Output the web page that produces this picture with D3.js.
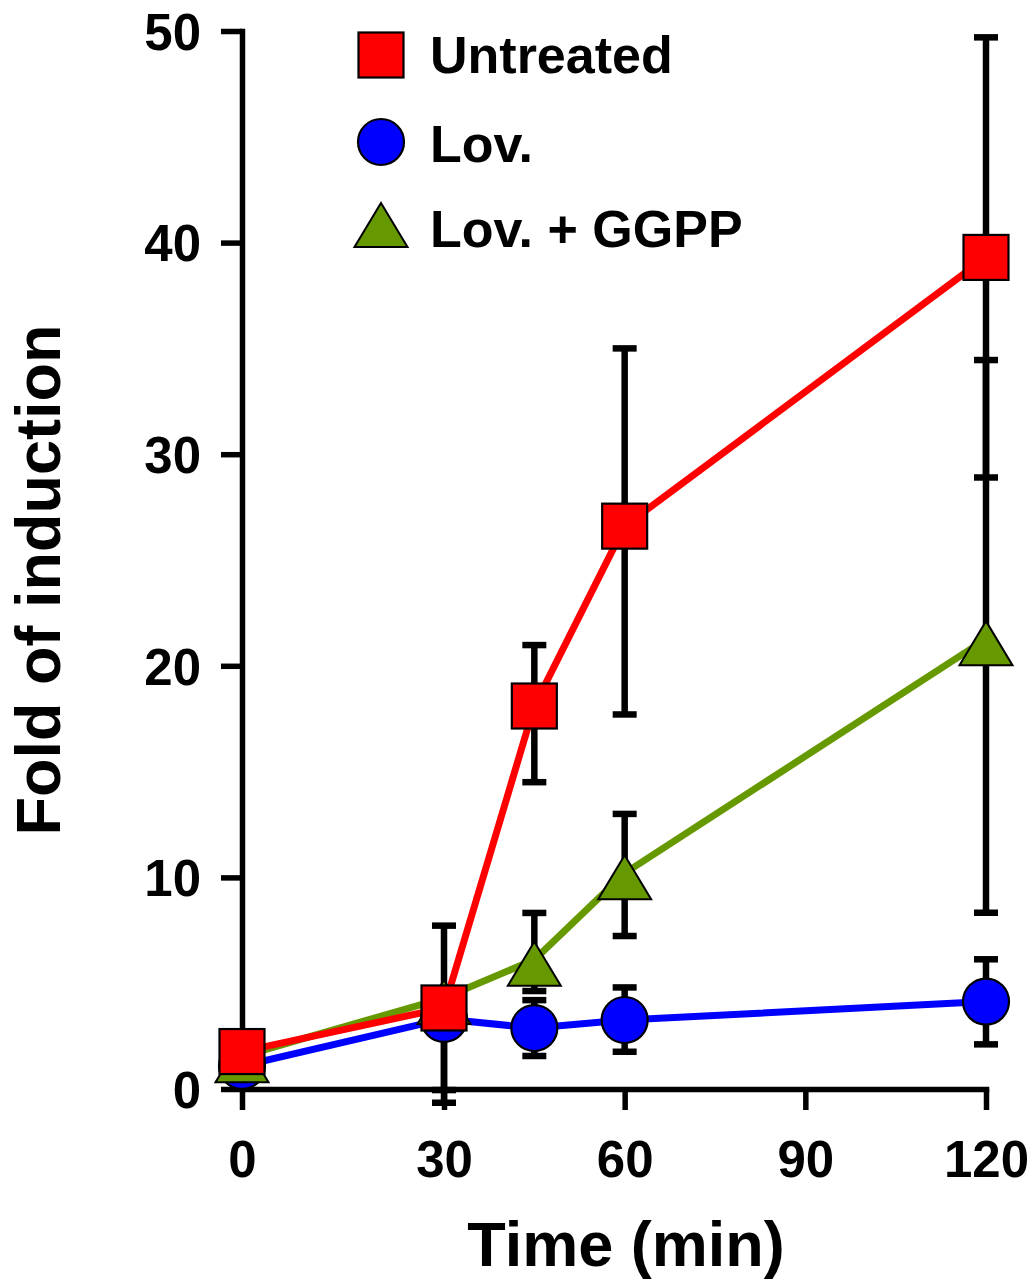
<!DOCTYPE html>
<html>
<head>
<meta charset="utf-8">
<script src="https://cdn.jsdelivr.net/npm/d3@7"></script>
<style>
  html, body { margin: 0; padding: 0; background: #fff; }
  svg { display: block; }
  text { font-family: "Liberation Sans", Arial, sans-serif; font-weight: bold; fill: #000; }
</style>
</head>
<body>
<svg id="chart" width="1033" height="1283"></svg>
<script>
// ---- data ----
const times = [0, 30, 45, 60, 120];
const xTicks = [0, 30, 60, 90, 120];
const yTicks = [0, 10, 20, 30, 40, 50];

const untreated      = [1.77, 3.83, 18.1, 26.6, 39.3];
const untreatedUpper = [null, 7.72, 20.98, 35.0, 49.7];
const untreatedLower = [null, -0.05, 14.5, 17.7, 28.9];

const lov      = [1.09, 3.31, 2.88, 3.26, 4.13];
const lovUpper = [null, 4.5, 4.2, 4.8, 6.13];
const lovLower = [null, -0.65, 1.56, 1.76, 2.11];

const ggpp      = [1.55, 4.3, 6.11, 10.2, 21.26];
const ggppUpper = [null, 4.6, 8.32, 13.0, 34.45];
const ggppLower = [null, 3.5, 4.63, 7.23, 8.33];

const seriesNames = ["Untreated", "Lov.", "Lov. + GGPP"];

// ---- setup ----
const svg = d3.select("#chart");
const x = d3.scaleLinear().domain([0, 30, 120]).range([242, 444, 986]);
const y = d3.scaleLinear().domain([0, 50]).range([1089, 31]);

const series = [
  { name: seriesNames[1], v: lov, up: lovUpper, lo: lovLower, color: "#0000ff", shape: "circle" },
  { name: seriesNames[2], v: ggpp, up: ggppUpper, lo: ggppLower, color: "#669900", shape: "triangle" },
  { name: seriesNames[0], v: untreated, up: untreatedUpper, lo: untreatedLower, color: "#ff0000", shape: "square" }
];

function drawMarker(g, shape, color) {
  if (shape === "square") {
    g.append("rect").attr("x", -22.5).attr("y", -22.5).attr("width", 45).attr("height", 45)
      .attr("fill", color).attr("stroke", "#000").attr("stroke-width", 2.2);
  } else if (shape === "circle") {
    g.append("circle").attr("r", 23).attr("fill", color).attr("stroke", "#000").attr("stroke-width", 2.2);
  } else {
    g.append("path").attr("d", "M0,-18L26.5,26L-26.5,26Z")
      .attr("fill", color).attr("stroke", "#000").attr("stroke-width", 2).attr("stroke-linejoin", "miter");
  }
}

// ---- axes ----
const yAxis = d3.axisLeft(y).tickValues(yTicks).tickSize(21).tickSizeOuter(0).tickPadding(20);
const gy = svg.append("g").attr("transform", "translate(242,0)").call(yAxis);
gy.select(".domain").attr("stroke-width", 5.5).attr("stroke-linecap", "square");
gy.selectAll(".tick line").attr("stroke-width", 5.5);
gy.selectAll(".tick text").attr("font-size", 51).attr("font-family", "Liberation Sans, Arial, sans-serif")
  .attr("font-weight", "bold").attr("dy", "0.36em").attr("x", -41);

const xAxis = d3.axisBottom(x).tickValues(xTicks).tickSize(21).tickSizeOuter(0).tickPadding(30);
const gx = svg.append("g").attr("transform", "translate(0,1089)").call(xAxis);
gx.select(".domain").attr("stroke-width", 5.5).attr("stroke-linecap", "square");
gx.selectAll(".tick line").attr("stroke-width", 5.5);
gx.selectAll(".tick text").attr("font-size", 51).attr("font-family", "Liberation Sans, Arial, sans-serif")
  .attr("font-weight", "bold").attr("dy", null).attr("y", 88);

// axis titles
svg.append("text").attr("x", 626).attr("y", 1266).attr("text-anchor", "middle")
  .attr("font-size", 63).text("Time (min)");
svg.append("text").attr("transform", "translate(60,580) rotate(-90)").attr("text-anchor", "middle")
  .attr("font-size", 63).text("Fold of induction");

// ---- lines, error bars, markers ----
const line = d3.line().x((d, i) => x(times[i])).y(d => y(d));

series.forEach(s => {
  svg.append("path").datum(s.v).attr("d", line)
    .attr("fill", "none").attr("stroke", s.color).attr("stroke-width", 7);
});

series.forEach(s => {
  const eg = svg.append("g");
  times.forEach((t, i) => {
    if (s.up[i] == null) return;
    const cx = x(t);
    eg.append("line").attr("x1", cx).attr("x2", cx).attr("y1", y(s.up[i])).attr("y2", y(s.lo[i]))
      .attr("stroke", "#000").attr("stroke-width", 6.5);
    [s.up[i], s.lo[i]].forEach(val => {
      eg.append("line").attr("x1", cx - 12).attr("x2", cx + 12).attr("y1", y(val)).attr("y2", y(val))
        .attr("stroke", "#000").attr("stroke-width", 6.5);
    });
  });
});

series.forEach(s => {
  times.forEach((t, i) => {
    const g = svg.append("g").attr("transform", `translate(${x(t)},${y(s.v[i])})`);
    drawMarker(g, s.shape, s.color);
  });
});

// ---- legend ----
const legendItems = [
  { name: seriesNames[0], shape: "square", color: "#ff0000", cy: 55, ty: 73 },
  { name: seriesNames[1], shape: "circle", color: "#0000ff", cy: 142, ty: 162 },
  { name: seriesNames[2], shape: "triangle", color: "#669900", cy: 221, ty: 247 }
];
legendItems.forEach(it => {
  const g = svg.append("g").attr("transform", `translate(381,${it.cy})`);
  drawMarker(g, it.shape, it.color);
  svg.append("text").attr("x", 430).attr("y", it.ty).attr("font-size", 52).text(it.name);
});
</script>
</body>
</html>
